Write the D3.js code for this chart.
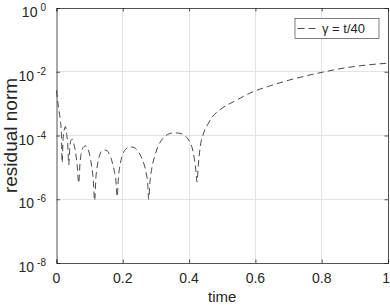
<!DOCTYPE html>
<html>
<head>
<meta charset="utf-8">
<script src="https://cdn.jsdelivr.net/npm/d3@7"></script>
<style>
  html, body { margin: 0; padding: 0; background: #fff; }
  svg { display: block; }
  text { font-family: "Liberation Sans", Arial, Helvetica, sans-serif; fill: #262626; }
</style>
</head>
<body>
<svg id="chart" width="390" height="305"></svg>
<script>
// ---- data ----
const times = [
  0.000, 0.004, 0.008, 0.012, 0.015, 0.017, 0.020, 0.024, 0.027, 0.030,
  0.034, 0.037, 0.040, 0.044, 0.048, 0.052, 0.057, 0.062, 0.067, 0.071,
  0.076, 0.082, 0.088, 0.094, 0.100, 0.106, 0.111, 0.115, 0.119, 0.124,
  0.130, 0.137, 0.145, 0.153, 0.160, 0.167, 0.174, 0.179, 0.183, 0.187,
  0.193, 0.200, 0.210, 0.222, 0.234, 0.245, 0.255, 0.264, 0.271, 0.275,
  0.278, 0.282, 0.288, 0.296, 0.306, 0.320, 0.335, 0.350, 0.365, 0.380,
  0.392, 0.402, 0.410, 0.416, 0.420, 0.424, 0.428, 0.434, 0.444, 0.456,
  0.470, 0.494, 0.544, 0.590, 0.640, 0.685, 0.740, 0.805, 0.870, 0.935, 1.000
];
const residualNorm = [
  2.6e-3, 1.1e-3, 5.6e-4, 2.8e-4, 1.0e-4, 1.4e-5, 7.9e-5, 1.6e-4, 1.9e-4, 1.26e-4,
  5.0e-5, 1.2e-5, 4.0e-5, 7.1e-5, 7.6e-5, 5.6e-5, 3.2e-5, 1.26e-5, 3.2e-6, 1.4e-5,
  3.2e-5, 4.4e-5, 4.7e-5, 4.0e-5, 2.5e-5, 1.1e-5, 4.0e-6, 9.0e-7, 5.0e-6, 1.26e-5,
  2.4e-5, 3.3e-5, 3.5e-5, 3.3e-5, 2.5e-5, 1.6e-5, 7.9e-6, 4.0e-6, 1.2e-6, 5.0e-6,
  1.4e-5, 2.6e-5, 3.8e-5, 4.4e-5, 4.2e-5, 3.3e-5, 2.2e-5, 1.26e-5, 6.3e-6, 3.2e-6,
  1.0e-6, 3.5e-6, 1.0e-5, 2.2e-5, 4.5e-5, 7.9e-5, 1.07e-4, 1.2e-4, 1.2e-4, 1.1e-4,
  8.9e-5, 6.3e-5, 3.8e-5, 1.8e-5, 8.9e-6, 3.5e-6, 1.26e-5, 4.7e-5, 1.2e-4, 2.2e-4,
  3.8e-4, 6.5e-4, 1.3e-3, 2.3e-3, 3.5e-3, 4.9e-3, 6.9e-3, 9.8e-3, 1.32e-2, 1.62e-2, 1.86e-2
];
const xTicks = [0, 0.2, 0.4, 0.6, 0.8, 1];
const xTickLabels = ["0", "0.2", "0.4", "0.6", "0.8", "1"];
const yTicks = [1e0, 1e-2, 1e-4, 1e-6, 1e-8];
const yTickExponents = ["0", "-2", "-4", "-6", "-8"];
const legendLabel = "\u03b3 = t/40";
const xLabel = "time";
const yLabel = "residual norm";

// ---- layout ----
const L = 56.5, R = 388, T = 8, B = 263;
const axisColor = "#262626";
const gridColor = "#e3e3e3";

const svg = d3.select("#chart");
const x = d3.scaleLinear().domain([0, 1]).range([L, R]);
const y = d3.scaleLog().domain([1e-8, 1e0]).range([B, T]);

// grid
const grid = svg.append("g");
grid.selectAll("line.gx").data(xTicks.slice(1, -1)).enter().append("line")
  .attr("x1", d => x(d)).attr("x2", d => x(d)).attr("y1", T).attr("y2", B)
  .attr("stroke", gridColor).attr("stroke-width", 1).attr("shape-rendering", "crispEdges");
grid.selectAll("line.gy").data(yTicks.slice(1, -1)).enter().append("line")
  .attr("x1", L).attr("x2", R).attr("y1", d => y(d)).attr("y2", d => y(d))
  .attr("stroke", gridColor).attr("stroke-width", 1).attr("shape-rendering", "crispEdges");

// curve
const pts = times.map((t, i) => [t, residualNorm[i]]);
const line = d3.line().x(d => x(d[0])).y(d => y(d[1])).curve(d3.curveMonotoneX);
svg.append("path").datum(pts)
  .attr("d", line)
  .attr("fill", "none").attr("stroke", "#1a1a1a").attr("stroke-width", 0.8)
  .attr("stroke-dasharray", "6.5,4");

// axes using d3 axis (ticks inward)
const xAxisB = d3.axisBottom(x).tickValues(xTicks).tickSize(-3.5).tickFormat(() => "");
const xAxisT = d3.axisTop(x).tickValues(xTicks).tickSize(-3.5).tickFormat(() => "");
const yAxisL = d3.axisLeft(y).tickValues(yTicks).tickSize(-3.5).tickFormat(() => "");
const yAxisR = d3.axisRight(y).tickValues(yTicks).tickSize(-3.5).tickFormat(() => "");
function styleAxis(g) {
  g.selectAll("path.domain").attr("stroke", axisColor).attr("stroke-width", 0.8);
  g.selectAll(".tick line").attr("stroke", axisColor).attr("stroke-width", 0.8);
}
svg.append("g").attr("transform", `translate(0,${B})`).call(xAxisB).call(styleAxis);
svg.append("g").attr("transform", `translate(0,${T})`).call(xAxisT).call(styleAxis);
svg.append("g").attr("transform", `translate(${L},0)`).call(yAxisL).call(styleAxis);
svg.append("g").attr("transform", `translate(${R},0)`).call(yAxisR).call(styleAxis);
svg.selectAll(".domain").attr("fill", "none");

// x tick labels
svg.append("g").selectAll("text").data(xTicks).enter().append("text")
  .attr("x", (d, i) => i === xTicks.length - 1 ? 390 : x(d)).attr("y", 283)
  .attr("text-anchor", (d, i) => i === xTicks.length - 1 ? "end" : "middle")
  .attr("font-size", 14)
  .text((d, i) => xTickLabels[i]);

// y tick labels 10^n
const yl = svg.append("g").selectAll("text").data(yTicks).enter().append("text")
  .attr("x", 46).attr("y", d => y(d) + 9)
  .attr("text-anchor", "end").attr("font-size", 14);
yl.append("tspan").text("10");
yl.append("tspan").attr("font-size", 10).attr("dx", 3).attr("dy", -6)
  .text((d, i) => yTickExponents[i]);

// axis labels
svg.append("text").attr("x", (L + R) / 2).attr("y", 302)
  .attr("text-anchor", "middle").attr("font-size", 15).text(xLabel);
svg.append("text").attr("transform", `translate(17,${(T + B) / 2}) rotate(-90)`)
  .attr("text-anchor", "middle").attr("font-size", 19).text(yLabel);

// legend
const lg = svg.append("g");
lg.append("rect").attr("x", 295).attr("y", 18.5).attr("width", 84).attr("height", 20)
  .attr("fill", "#fff").attr("stroke", axisColor).attr("stroke-width", 0.6);
lg.append("line").attr("x1", 297.5).attr("x2", 317).attr("y1", 28.5).attr("y2", 28.5)
  .attr("stroke", "#1a1a1a").attr("stroke-width", 0.8).attr("stroke-dasharray", "7,4");
lg.append("text").attr("x", 322).attr("y", 33).attr("font-size", 13).text(legendLabel);
</script>
</body>
</html>
